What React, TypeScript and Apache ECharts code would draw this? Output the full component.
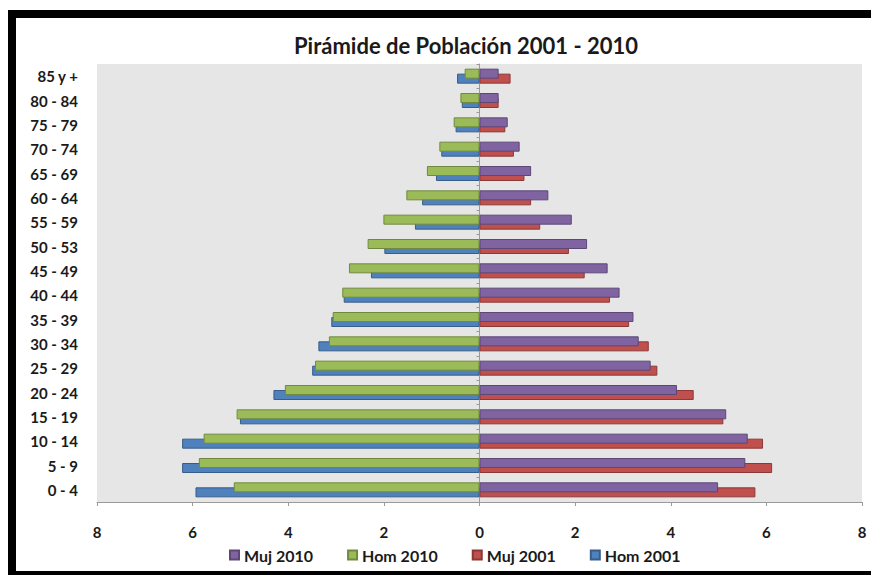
import React, { useEffect, useRef } from "react";
import * as echarts from "echarts";

const title = "Pirámide de Población 2001 - 2010";
const categories = [
  "0 - 4", "5 - 9", "10 - 14", "15 - 19", "20 - 24", "25 - 29", "30 - 34", "35 - 39", "40 - 44",
  "45 - 49", "50 - 53", "55 - 59", "60 - 64", "65 - 69", "70 - 74", "75 - 79", "80 - 84", "85 y +",
];
const muj2010 = [4.99, 5.56, 5.61, 5.16, 4.13, 3.58, 3.33, 3.22, 2.93, 2.68, 2.25, 1.93, 1.44, 1.08, 0.84, 0.59, 0.4, 0.4];
const hom2010 = [5.14, 5.87, 5.77, 5.08, 4.07, 3.44, 3.15, 3.07, 2.87, 2.73, 2.34, 2.01, 1.53, 1.1, 0.84, 0.54, 0.4, 0.31];
const muj2001 = [5.77, 6.12, 5.93, 5.1, 4.48, 3.72, 3.54, 3.13, 2.73, 2.2, 1.87, 1.27, 1.08, 0.94, 0.72, 0.54, 0.4, 0.65];
const hom2001 = [5.94, 6.22, 6.22, 5.01, 4.31, 3.5, 3.37, 3.1, 2.84, 2.27, 1.99, 1.35, 1.2, 0.91, 0.8, 0.5, 0.37, 0.47];
const xMin = -8;
const xMax = 8;
const xStep = 2;

const FONT = "Lato, 'Open Sans', sans-serif";

export default function App() {
  const ref = useRef<HTMLDivElement>(null);
  useEffect(() => {
    if (!ref.current) return;
    const chart = echarts.init(ref.current, undefined, { renderer: "svg" });
    const mk = (name: string, data: number[], stack: string, color: string, border: string, z: number) => ({
      name,
      type: "bar",
      stack,
      data,
      barWidth: 10,
      barGap: "-50%",
      z,
      itemStyle: { color, borderColor: border, borderWidth: 1 },
    });
    chart.setOption({
      animation: false,
      backgroundColor: "#ffffff",
      title: {
        text: title,
        left: 461,
        textAlign: "center",
        top: 29,
        textStyle: { fontFamily: FONT, fontWeight: "bold", fontSize: 22, color: "#1a1a1a" },
      },
      graphic: [
        {
          type: "rect",
          shape: { x: 12, y: 14, width: 900, height: 561 },
          style: { fill: "none", stroke: "#000", lineWidth: 8 },
          z: 100,
        },
      ],
      legend: {
        left: 224,
        top: 542,
        icon: "rect",
        itemWidth: 9,
        itemHeight: 9,
        itemGap: 34,
        textStyle: { fontFamily: FONT, fontWeight: "bold", fontSize: 16, color: "#1a1a1a" },
        data: ["Muj 2010", "Hom 2010", "Muj 2001", "Hom 2001"],
      },
      grid: {
        left: 97,
        right: 9,
        top: 64,
        bottom: 73,
        show: true,
        backgroundColor: "#e6e6e6",
        borderWidth: 0,
        outerBoundsMode: "none",
        containLabel: false,
      },
      xAxis: {
        type: "value",
        min: xMin,
        max: xMax,
        interval: xStep,
        axisLine: { show: true, lineStyle: { color: "#9a9a9a", width: 1 } },
        axisTick: { show: true, length: 4, lineStyle: { color: "#9a9a9a" } },
        splitLine: { show: false },
        axisLabel: {
          margin: 22,
          formatter: (v: number) => String(Math.abs(v)),
          fontFamily: FONT,
          fontWeight: "bold",
          fontSize: 15,
          color: "#1a1a1a",
        },
      },
      yAxis: {
        type: "category",
        data: categories,
        axisLine: { show: true, onZero: true, lineStyle: { color: "#9a9a9a", width: 1 } },
        axisTick: { show: true, length: 3, lineStyle: { color: "#9a9a9a" } },
        axisLabel: {
          margin: 19,
          fontFamily: FONT,
          fontWeight: "bold",
          fontSize: 15,
          color: "#1a1a1a",
        },
      },
      series: [
        mk("Muj 2010", muj2010, "y2010", "#8064a2", "#5c4776", 4),
        mk("Hom 2010", hom2010.map((v) => -v), "y2010", "#9bbb59", "#71893f", 4),
        mk("Muj 2001", muj2001, "y2001", "#c0504d", "#8c3836", 3),
        mk("Hom 2001", hom2001.map((v) => -v), "y2001", "#4f81bd", "#385d8a", 3),
      ],
    });
    return () => chart.dispose();
  }, []);
  return (
    <div
      ref={ref}
      style={{ position: "absolute", left: 0, top: 0, width: 871, height: 575 }}
    />
  );
}
